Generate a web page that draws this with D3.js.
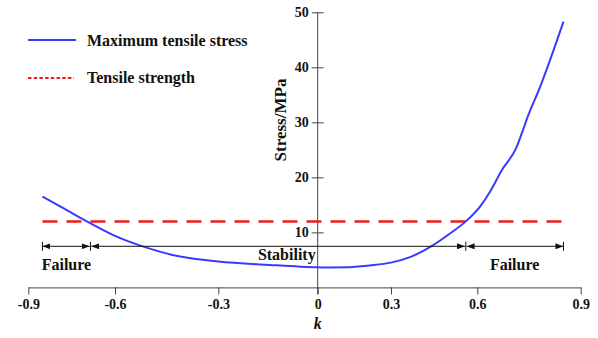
<!DOCTYPE html>
<html lang="en">
<head>
<meta charset="UTF-8">
<title>Maximum tensile stress vs k</title>
<script src="https://d3js.org/d3.v7.min.js"></script>
<style>
    body { margin: 0; background: #fff; }
    svg text { font-family: "Liberation Serif", "Times New Roman", serif; font-weight: bold; fill: #111; }
</style>
</head>
<body>
<div id="chart"></div>
<script>
    // data
    const kValues = [-0.851, -0.779, -0.696, -0.606, -0.522, -0.411, -0.3, -0.144, -0.053, 0, 0.05, 0.214, 0.3, 0.366, 0.441, 0.505, 0.56, 0.608, 0.637, 0.671, 0.714, 0.729, 0.748, 0.782, 0.811, 0.85];
    const stressValues = [16.5, 14.4, 11.95, 9.5, 7.5, 5.6, 4.7, 4.08, 3.77, 3.66, 3.6, 4.0, 4.5, 5.5, 7.5, 9.8, 12.0, 14.7, 17.4, 21.3, 25.5, 28.0, 31.3, 36.4, 41.3, 48.3];
    const tensileStrength = 12;
    const strengthRange = [-0.851, 0.85];
    const regionBounds = [-0.851, -0.685, 0.56, 0.85];
    const regionLabels = ["Failure", "Stability", "Failure"];
    const xTicks = [-0.9, -0.6, -0.3, 0, 0.3, 0.6, 0.9];
    const xTickLabels = ["-0.9", "-0.6", "-0.3", "0", "0.3", "0.6", "0.9"];
    const yTicks = [10, 20, 30, 40, 50];
    const legendLabels = ["Maximum tensile stress", "Tensile strength"];

    const width = 598, height = 338;

    const svg = d3.select("#chart").append("svg")
        .attr("width", width)
        .attr("height", height);

    // the k axis in the figure is not evenly spaced, so map tick by tick
    const x = d3.scaleLinear()
        .domain(xTicks)
        .range([28.3, 115, 218.3, 317.7, 391, 477.3, 580.7]);

    const y = d3.scaleLinear()
        .domain([0, 50])
        .range([287.4, 12.3]);

    const axisColor = "#444";

    // X axis
    const xAxis = svg.append("g")
        .attr("transform", "translate(0," + y(0) + ")")
        .call(d3.axisBottom(x).tickValues(xTicks).tickSize(7).tickSizeOuter(0)
            .tickFormat((d, i) => xTickLabels[i]));
    xAxis.select(".domain").attr("stroke", axisColor);
    xAxis.selectAll(".tick line").attr("stroke", axisColor);
    xAxis.selectAll(".tick text")
        .attr("y", 12)
        .style("font-size", "14px");

    // Y axis sits at k = 0
    const yAxis = svg.append("g")
        .attr("transform", "translate(" + x(0) + ",0)")
        .call(d3.axisLeft(y).tickValues(yTicks).tickSize(6).tickSizeOuter(0));
    yAxis.select(".domain").attr("stroke", axisColor)
        .attr("d", "M0," + y(50) + "V" + (y(0) + 7));
    yAxis.selectAll(".tick line").attr("stroke", axisColor).attr("x1", 6).attr("x2", -6);
    yAxis.selectAll(".tick text")
        .attr("x", -9)
        .style("font-size", "14px");

    svg.append("text")
        .attr("transform", "translate(286," + 120 + ") rotate(-90)")
        .attr("text-anchor", "middle")
        .style("font-size", "17px")
        .text("Stress/MPa");

    svg.append("text")
        .attr("x", x(0))
        .attr("y", 329)
        .attr("text-anchor", "middle")
        .style("font-size", "16px")
        .style("font-style", "italic")
        .text("k");

    // tensile strength line
    svg.append("line")
        .attr("x1", x(strengthRange[0]))
        .attr("x2", x(strengthRange[1]))
        .attr("y1", y(tensileStrength))
        .attr("y2", y(tensileStrength))
        .attr("stroke", "#ee1c1c")
        .attr("stroke-width", 2.5)
        .attr("stroke-dasharray", "15,9");

    // stress curve
    const points = kValues.map((k, i) => [k, stressValues[i]]);
    const line = d3.line()
        .x(d => x(d[0]))
        .y(d => y(d[1]))
        .curve(d3.curveMonotoneX);

    svg.append("path")
        .datum(points)
        .attr("d", line)
        .attr("fill", "none")
        .attr("stroke", "#3a3aff")
        .attr("stroke-width", 2);

    // region arrows
    svg.append("defs").append("marker")
        .attr("id", "arrow")
        .attr("viewBox", "0 0 8 6")
        .attr("refX", 8)
        .attr("refY", 3)
        .attr("markerWidth", 8)
        .attr("markerHeight", 6)
        .attr("markerUnits", "userSpaceOnUse")
        .attr("orient", "auto-start-reverse")
        .append("path")
        .attr("d", "M0,0L8,3L0,6Z")
        .attr("fill", "#111");

    const arrowY = 246.3;
    const regions = svg.append("g");
    for (let i = 0; i < regionLabels.length; i++) {
        const a = x(regionBounds[i]) + (i > 0 ? 0.8 : 0);
        const b = x(regionBounds[i + 1]) - (i < regionLabels.length - 1 ? 0.8 : 0);
        regions.append("line")
            .attr("x1", a).attr("x2", b)
            .attr("y1", arrowY).attr("y2", arrowY)
            .attr("stroke", "#111")
            .attr("stroke-width", 1)
            .attr("marker-start", "url(#arrow)")
            .attr("marker-end", "url(#arrow)");
    }
    regionBounds.forEach(k => {
        regions.append("line")
            .attr("x1", x(k)).attr("x2", x(k))
            .attr("y1", arrowY - 4.5).attr("y2", arrowY + 4.5)
            .attr("stroke", "#111")
            .attr("stroke-width", 1);
    });

    // region labels
    regions.append("text")
        .attr("x", (x(regionBounds[0]) + x(regionBounds[1])) / 2)
        .attr("y", 270)
        .attr("text-anchor", "middle")
        .style("font-size", "16px")
        .text(regionLabels[0]);
    regions.append("text")
        .attr("x", x(0) - 2)
        .attr("y", 260)
        .attr("text-anchor", "end")
        .style("font-size", "16px")
        .text(regionLabels[1]);
    regions.append("text")
        .attr("x", (x(regionBounds[2]) + x(regionBounds[3])) / 2)
        .attr("y", 270)
        .attr("text-anchor", "middle")
        .style("font-size", "16px")
        .text(regionLabels[2]);

    // legend
    const legend = svg.append("g");
    legend.append("line")
        .attr("x1", 28).attr("x2", 76)
        .attr("y1", 40).attr("y2", 40)
        .attr("stroke", "#3a3aff")
        .attr("stroke-width", 2);
    legend.append("text")
        .attr("x", 87).attr("y", 45.5)
        .style("font-size", "16px")
        .text(legendLabels[0]);
    legend.append("line")
        .attr("x1", 28).attr("x2", 74)
        .attr("y1", 78).attr("y2", 78)
        .attr("stroke", "#ee1c1c")
        .attr("stroke-width", 2)
        .attr("stroke-dasharray", "3.5,2.2");
    legend.append("text")
        .attr("x", 87).attr("y", 83)
        .style("font-size", "16px")
        .text(legendLabels[1]);
</script>
</body>
</html>
